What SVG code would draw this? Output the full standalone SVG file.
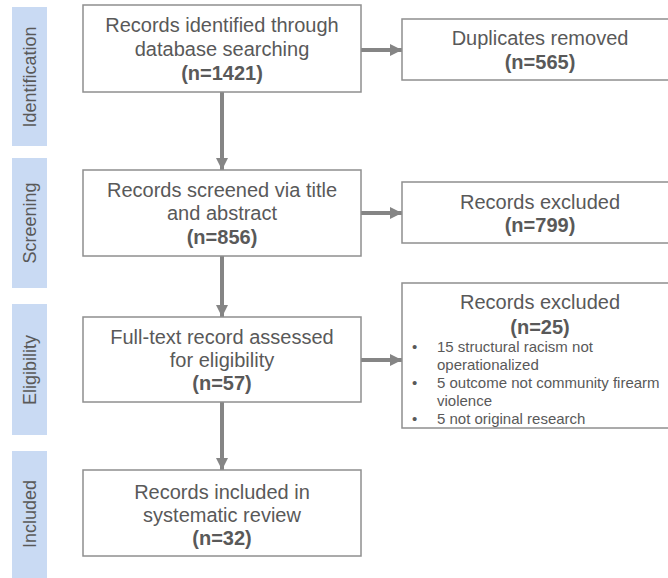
<svg xmlns="http://www.w3.org/2000/svg" width="668" height="578" viewBox="0 0 668 578">
<defs>
<style>
.bar{fill:#c9daf3;}
.box{fill:#ffffff;stroke:#8f8f8f;stroke-width:1.5;}
.t{font-family:"Liberation Sans",Arial,sans-serif;font-size:20px;fill:#595959;text-anchor:middle;}
.b{font-weight:bold;}
.s{font-family:"Liberation Sans",Arial,sans-serif;font-size:18px;fill:#595959;text-anchor:middle;}
.l{font-family:"Liberation Sans",Arial,sans-serif;font-size:15px;fill:#595959;}
.c{stroke:#858585;stroke-width:4;fill:none;}
</style>
<marker id="ah" viewBox="0 0 10 10" refX="10" refY="5" markerWidth="3" markerHeight="3" markerUnits="strokeWidth" orient="auto">
<path d="M0,0 L10,5 L0,10 z" fill="#858585"/>
</marker>
</defs>
<rect width="668" height="578" fill="#ffffff"/>
<g id="phases">
<rect class="bar" x="12" y="7" width="35" height="139"/>
<text class="s" transform="translate(36,77) rotate(-90)">Identification</text>
<rect class="bar" x="12" y="158" width="35" height="130"/>
<text class="s" transform="translate(36,223) rotate(-90)">Screening</text>
<rect class="bar" x="12" y="304" width="35" height="131"/>
<text class="s" transform="translate(36,370) rotate(-90)">Eligibility</text>
<rect class="bar" x="12" y="451" width="35" height="127"/>
<text class="s" transform="translate(36,514) rotate(-90)">Included</text>
</g>
<g id="connectors">
<line class="c" x1="222" y1="92" x2="222" y2="170" marker-end="url(#ah)"/>
<line class="c" x1="222" y1="256" x2="222" y2="317" marker-end="url(#ah)"/>
<line class="c" x1="222" y1="402" x2="222" y2="470" marker-end="url(#ah)"/>
<line class="c" x1="361" y1="50" x2="402" y2="50" marker-end="url(#ah)"/>
<line class="c" x1="361" y1="213" x2="402" y2="213" marker-end="url(#ah)"/>
<line class="c" x1="361" y1="360" x2="402" y2="360" marker-end="url(#ah)"/>
</g>
<g id="identified">
<rect class="box" x="83" y="5" width="278" height="87"/>
<text class="t" x="222" y="32">Records identified through</text>
<text class="t" x="222" y="56">database searching</text>
<text class="t b" x="222" y="80">(n=1421)</text>
</g>
<g id="duplicates">
<rect class="box" x="402" y="19" width="290" height="61"/>
<text class="t" x="540" y="45">Duplicates removed</text>
<text class="t b" x="540" y="69">(n=565)</text>
</g>
<g id="screened">
<rect class="box" x="83" y="170" width="278" height="86"/>
<text class="t" x="222" y="197">Records screened via title</text>
<text class="t" x="222" y="220">and abstract</text>
<text class="t b" x="222" y="244">(n=856)</text>
</g>
<g id="excluded1">
<rect class="box" x="402" y="182" width="290" height="61"/>
<text class="t" x="540" y="209">Records excluded</text>
<text class="t b" x="540" y="232">(n=799)</text>
</g>
<g id="fulltext">
<rect class="box" x="83" y="317" width="278" height="85"/>
<text class="t" x="222" y="344">Full-text record assessed</text>
<text class="t" x="222" y="367">for eligibility</text>
<text class="t b" x="222" y="390">(n=57)</text>
</g>
<g id="excluded2">
<rect class="box" x="402" y="283" width="290" height="145"/>
<text class="t" x="540" y="309">Records excluded</text>
<text class="t b" x="540" y="334">(n=25)</text>
<text class="l" x="412" y="352">•</text>
<text class="l" x="437" y="352">15 structural racism not</text>
<text class="l" x="437" y="370">operationalized</text>
<text class="l" x="412" y="388">•</text>
<text class="l" x="437" y="388">5 outcome not community firearm</text>
<text class="l" x="437" y="406">violence</text>
<text class="l" x="412" y="424">•</text>
<text class="l" x="437" y="424">5 not original research</text>
</g>
<g id="included">
<rect class="box" x="83" y="470" width="278" height="86"/>
<text class="t" x="222" y="499">Records included in</text>
<text class="t" x="222" y="522">systematic review</text>
<text class="t b" x="222" y="545">(n=32)</text>
</g>
</svg>
